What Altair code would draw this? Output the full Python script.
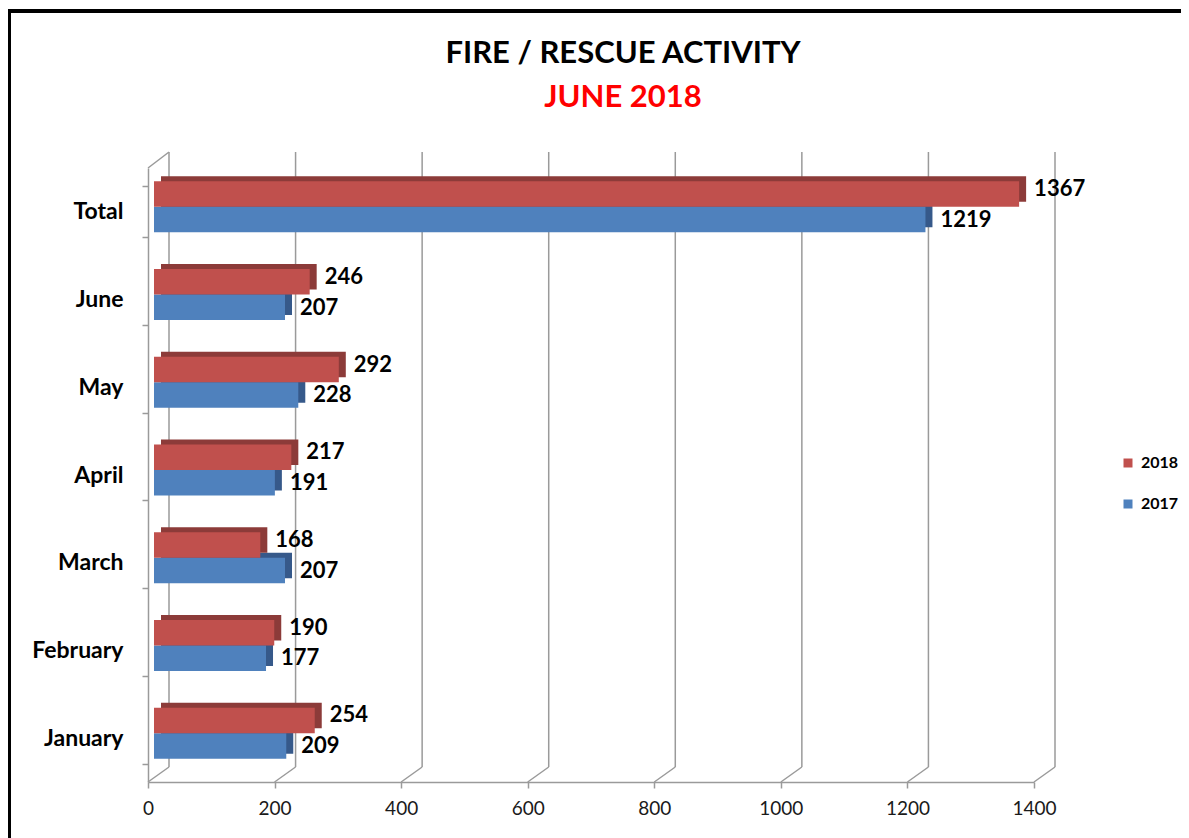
import altair as alt
import pandas as pd

# ---- data ----
months = ["Total", "June", "May", "April", "March", "February", "January"]
v2018 = [1367, 246, 292, 217, 168, 190, 254]
v2017 = [1219, 207, 228, 191, 207, 177, 209]
years = ["2018", "2017"]
x_ticks = [0, 200, 400, 600, 800, 1000, 1200, 1400]
title_text = "FIRE / RESCUE ACTIVITY"
subtitle_text = "JUNE 2018"

rows = []
for m, a, b in zip(months, v2018, v2017):
    rows.append({"month": m, "year": "2018", "value": a})
    rows.append({"month": m, "year": "2017", "value": b})
df = pd.DataFrame(rows)
grid = pd.DataFrame({"v": x_ticks})

# ---- style ----
F = "Lato"
W, H = 886, 614
DX, DY = 21, -15
GRAY = "#9a9a9a"
RED, BLUE = "#C0504D", "#4F81BD"
RED_D, BLUE_D = "#8C3B39", "#36598A"
BAR_H = 25.5

xscale = alt.Scale(domain=[0, 1400], nice=False, zero=True)
yscale = alt.Scale(domain=months, paddingInner=0.42, paddingOuter=0.21)
xaxis = alt.Axis(values=x_ticks, format="d", grid=False, domainColor=GRAY,
                 domainWidth=1.5, tickColor=GRAY, tickSize=6, tickWidth=1.5,
                 labelFont=F, labelFontSize=19, labelColor="#1a1a1a", labelPadding=11,
                 labelFlush=False, labelOverlap=False, title=None)
yaxis = alt.Axis(domainColor=GRAY, domainWidth=1.5, tickColor=GRAY, tickSize=6,
                 tickWidth=1.5, tickBand="extent", labelFont=F, labelFontSize=23,
                 labelFontWeight="bold", labelColor="black", labelPadding=19,
                 title=None, grid=False)


def X(field):
    return alt.X(f"{field}:Q", scale=xscale, axis=xaxis, title=None)


Y = alt.Y("month:N", sort=months, scale=yscale, axis=yaxis, title=None)

frame = alt.Chart(pd.DataFrame({"k": [0]})).mark_rect(
    fill="white", fillOpacity=0, stroke="black", strokeWidth=4
).encode(x=alt.value(-139), x2=alt.value(1100), y=alt.value(-157), y2=alt.value(720))

title = alt.Chart(pd.DataFrame({"t": [title_text]})).mark_text(
    font=F, fontSize=31, fontWeight="bold", color="black", align="center",
    baseline="alphabetic"
).encode(text="t:N", x=alt.value(475), y=alt.value(-105))
subtitle = alt.Chart(pd.DataFrame({"t": [subtitle_text]})).mark_text(
    font=F, fontSize=31, fontWeight="bold", color="#FF0000", align="center",
    baseline="alphabetic"
).encode(text="t:N", x=alt.value(475), y=alt.value(-61))

gridlines = alt.Chart(grid).mark_rule(color=GRAY, strokeWidth=1.5, xOffset=DX).encode(
    x=X("v"), y=alt.value(-16), y2=alt.value(H + DY)
)
floor = alt.Chart(grid).mark_rule(color=GRAY, strokeWidth=1.5, x2Offset=DX).encode(
    x=X("v"), x2="v:Q", y=alt.value(H), y2=alt.value(H + DY)
)
corner = alt.Chart(pd.DataFrame({"v": [0]})).mark_rule(
    color=GRAY, strokeWidth=1.5, x2Offset=DX
).encode(x=X("v"), x2="v:Q", y=alt.value(0), y2=alt.value(-16))

base = alt.Chart(df)
color = alt.Color(
    "year:N",
    scale=alt.Scale(domain=years, range=[RED, BLUE]),
    legend=alt.Legend(orient="none", legendX=972, legendY=287, symbolType="square",
                      symbolSize=81, symbolStrokeWidth=0, labelFont=F,
                      labelFontSize=16, labelFontWeight="bold", labelColor="black",
                      rowPadding=25, padding=0, labelOffset=5, title=None),
)

red = base.transform_filter(alt.datum.year == "2018")
blue = base.transform_filter(alt.datum.year == "2017")

blue_shadow = blue.mark_bar(color=BLUE_D, height=BAR_H, xOffset=13, x2Offset=13,
                            yOffset=7.75 - 5).encode(x=X("value"), y=Y)
red_shadow = red.mark_bar(color=RED_D, height=BAR_H, xOffset=13, x2Offset=13,
                          yOffset=-17.75 - 5).encode(x=X("value"), y=Y)
blue_front = blue.mark_bar(height=BAR_H, xOffset=6, x2Offset=6, yOffset=7.75).encode(
    x=X("value"), y=Y, color=color)
red_front = red.mark_bar(height=BAR_H, xOffset=6, x2Offset=6, yOffset=-17.75).encode(
    x=X("value"), y=Y, color=color)

red_text = red.mark_text(align="left", baseline="middle", dx=21, dy=-22.75, font=F,
                         fontSize=22, fontWeight="bold", color="black").encode(
    x=X("value"), y=Y, text="value:Q")
blue_text = blue.mark_text(align="left", baseline="middle", dx=21, dy=8, font=F,
                           fontSize=22, fontWeight="bold", color="black").encode(
    x=X("value"), y=Y, text="value:Q")

chart = alt.layer(
    frame, title, subtitle, gridlines, floor, corner, blue_shadow, red_shadow,
    blue_front, red_front, red_text, blue_text
).properties(
    width=W, height=H, autosize="none",
    padding={"left": 140, "top": 160, "right": 147, "bottom": 56},
).configure(background="white").configure_view(strokeWidth=0, stroke="transparent")

chart.save("out.html", embed_options={"renderer": "svg", "actions": False})
